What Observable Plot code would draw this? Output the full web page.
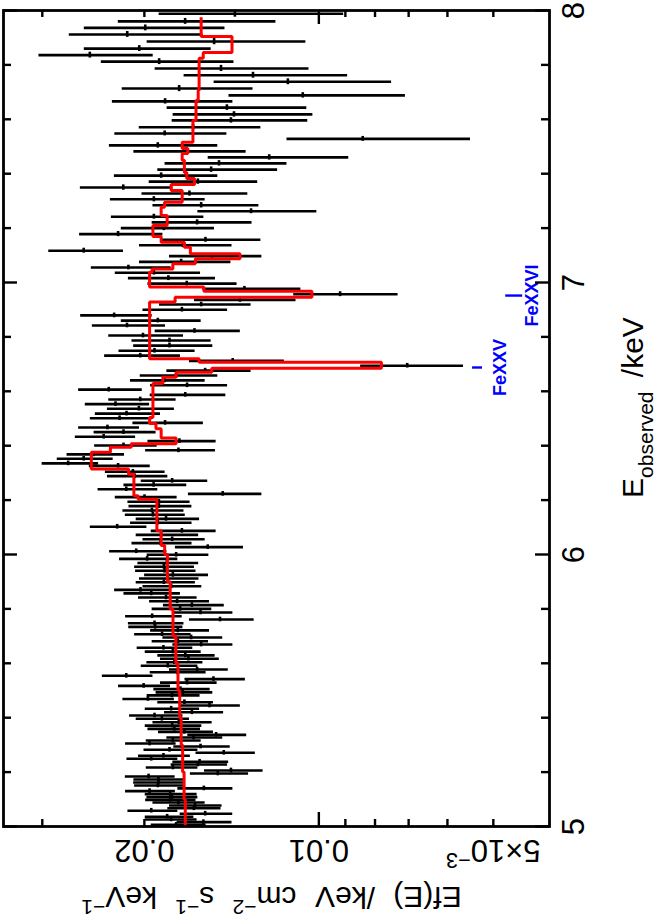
<!DOCTYPE html>
<html><head><meta charset="utf-8">
<script src="https://cdn.jsdelivr.net/npm/d3@7"></script>
<script src="https://cdn.jsdelivr.net/npm/@observablehq/plot@0.6"></script>
<style>
html,body{margin:0;padding:0;background:#fff;}
#chart svg{display:block;}
</style>
</head><body><div id="chart"></div>
<script>
// ---- Data (flux values in units of 1e-3 keV cm^-2 s^-1 keV^-1) ----
const FLUX_UNIT = 1e-3;
const energy = [
7.988,7.960,7.936,7.912,7.886,7.860,7.836,7.812,7.787,7.762,
7.738,7.713,7.688,7.666,7.643,7.618,7.596,7.571,7.548,7.528,
7.504,7.482,7.460,7.438,7.415,7.393,7.371,7.349,7.327,7.306,
7.284,7.262,7.242,7.221,7.200,7.178,7.157,7.137,7.117,7.097,
7.076,7.055,7.036,7.016,6.996,6.977,6.957,6.936,6.919,6.900,
6.879,6.860,6.842,6.822,6.805,6.787,6.768,6.749,6.731,6.712,
6.694,6.676,6.658,6.640,6.622,6.606,6.587,6.570,6.553,6.536,
6.518,6.501,6.484,6.467,6.450,6.433,6.417,6.401,6.383,6.368,
6.352,6.335,6.326,6.304,6.288,6.271,6.256,6.240,6.223,6.211,
6.194,6.178,6.162,6.146,6.131,6.117,6.102,6.087,6.072,6.056,
6.042,6.027,6.012,5.999,5.984,5.969,5.955,5.940,5.925,5.912,
5.898,5.883,5.870,5.857,5.842,5.828,5.814,5.800,5.787,5.773,
5.761,5.747,5.734,5.721,5.707,5.695,5.681,5.669,5.657,5.643,
5.629,5.617,5.604,5.591,5.577,5.567,5.554,5.542,5.529,5.517,
5.505,5.493,5.482,5.469,5.457,5.445,5.433,5.420,5.408,5.396,
5.383,5.371,5.359,5.348,5.337,5.327,5.316,5.305,5.294,5.282,
5.271,5.260,5.249,5.238,5.228,5.217,5.206,5.195,5.184,5.173,
5.162,5.151,5.140,5.130,5.119,5.108,5.098,5.088,5.077,5.067,
5.058,5.047,5.036,5.026,5.016,5.006];

const flux = [
13.96,17.01,19.93,21.41,15.16,20.41,24.84,18.86,14.75,12.99,
11.31,17.42,10.66,18.42,14.41,14.01,14.18,16.48,18.45,8.40,
18.96,17.06,12.18,14.87,15.34,18.71,16.17,21.75,16.72,19.26,
15.96,13.09,19.26,16.22,18.51,22.20,15.69,17.16,25.45,15.30,
17.28,21.31,19.26,18.18,16.90,13.44,9.19,13.68,15.96,17.23,
22.55,18.96,21.43,16.39,20.11,18.10,18.10,19.21,20.33,14.08,
7.04,15.71,17.63,18.46,16.88,23.04,17.00,20.33,22.43,20.44,
21.47,22.07,18.42,23.16,21.73,23.51,17.40,21.73,17.47,24.49,
25.45,27.07,22.20,20.93,20.79,17.91,19.28,21.49,14.65,19.99,
18.88,18.88,19.41,19.33,18.35,18.96,22.28,17.23,18.71,17.91,
18.76,15.55,20.66,17.63,19.78,18.29,18.51,18.46,17.86,18.22,
18.51,17.98,20.31,19.46,18.35,17.56,16.56,17.35,16.00,19.39,
14.81,19.21,19.16,17.51,18.64,16.61,17.51,15.96,18.54,17.86,
17.00,16.79,17.75,18.22,16.22,17.56,21.49,15.20,16.88,20.06,
17.33,17.16,17.93,19.72,17.06,15.44,17.98,16.56,19.21,18.66,
17.44,17.91,17.75,17.06,15.04,16.45,17.86,19.59,16.00,18.10,
14.59,18.54,19.46,16.06,16.17,17.86,14.18,14.94,19.67,18.91,
18.91,18.96,15.79,19.59,18.05,17.93,18.05,17.47,16.35,16.43,
19.46,15.71,18.27,17.98,15.82,17.63];

const fluxLo = [
9.06,11.86,14.52,15.84,10.53,15.34,19.31,14.01,10.40,8.92,
7.49,12.99,7.09,14.07,10.49,10.24,10.45,12.59,14.41,5.475,
14.94,13.35,8.88,11.35,11.78,14.94,12.75,17.86,13.26,15.71,
12.69,10.08,15.79,13.04,15.14,18.58,12.59,14.12,21.73,12.54,
14.18,17.98,16.00,15.08,13.84,10.74,7.30,10.95,13.09,14.37,
19.39,15.96,18.39,13.66,17.12,15.34,15.24,16.35,17.33,11.47,
5.63,13.09,14.94,15.71,14.37,20.17,14.47,17.63,19.59,17.75,
18.76,19.39,15.82,20.39,19.09,20.71,15.04,19.01,15.08,21.64,
22.64,23.99,19.54,18.42,18.22,15.55,16.90,18.96,12.54,17.56,
16.68,16.56,17.09,17.00,16.06,16.55,19.80,15.04,16.12,15.71,
16.55,13.49,18.29,15.48,17.51,16.12,16.39,16.29,15.50,16.10,
16.33,15.92,18.05,17.33,16.22,15.44,14.56,15.30,14.07,17.21,
12.93,17.09,17.16,15.44,16.61,14.65,15.50,14.07,16.50,15.96,
15.10,14.85,15.85,16.17,14.33,15.65,19.33,13.39,14.98,18.03,
15.40,15.24,16.03,17.75,15.20,13.66,16.06,14.60,17.16,16.72,
15.28,15.92,16.00,15.20,13.32,14.65,15.96,17.63,14.22,16.17,
12.87,16.66,17.51,14.31,14.37,16.17,12.48,13.22,17.70,17.02,
17.02,17.09,14.07,17.68,16.22,16.17,16.29,15.71,14.69,14.75,
17.51,14.08,16.43,16.22,14.12,15.65];

const fluxHi = [
18.86,22.18,25.39,26.95,19.78,25.39,30.40,23.73,19.16,17.08,
15.16,21.84,14.29,22.71,18.27,17.84,17.91,20.41,22.49,11.35,
22.98,20.85,15.52,18.42,18.96,22.53,19.62,25.79,20.19,22.89,
19.33,16.17,22.80,19.39,21.92,25.87,18.71,20.39,29.24,18.10,
20.39,24.69,22.45,21.31,19.72,15.85,11.05,16.39,18.83,20.11,
25.76,21.92,24.59,19.16,23.04,21.01,20.87,22.12,23.42,16.72,
8.47,18.29,20.33,21.13,19.51,25.97,19.54,23.04,25.29,23.16,
24.30,24.79,20.93,25.97,24.42,26.31,19.72,24.37,19.90,27.19,
28.27,30.02,24.89,23.35,23.16,20.25,21.69,24.04,16.79,22.45,
21.35,21.26,21.78,21.57,20.66,21.13,24.79,19.46,20.66,20.11,
21.01,17.68,22.96,19.78,22.07,20.52,20.79,20.71,19.98,20.39,
20.66,20.11,22.51,21.69,20.47,19.59,18.54,19.39,17.86,21.55,
16.72,21.31,21.28,19.51,20.79,18.58,19.39,17.86,20.58,19.93,
18.96,18.76,19.80,20.25,18.10,19.54,23.63,17.02,18.76,22.16,
19.26,19.09,19.78,21.78,18.96,17.28,19.93,18.46,21.21,20.66,
19.33,19.93,19.72,18.91,16.83,18.29,19.85,21.55,17.79,20.03,
16.29,20.47,21.43,17.86,17.98,19.85,15.75,16.66,21.57,20.85,
20.87,20.79,17.51,21.55,19.93,19.80,19.90,19.33,18.10,18.22,
21.35,17.35,19.93,19.93,17.56,19.46];

// Model (step function): bin edges in keV and flux per bin (1e-3 units)
const modelEdges = [5.0,5.1,5.2,5.3,5.4,5.5,5.6,5.7,5.8,5.9,6.0,
6.033,6.087,6.203,6.216,6.295,6.314,6.376,6.394,6.407,6.428,
6.462,6.482,6.504,6.629,6.652,6.670,6.685,6.707,6.720,6.928,
6.946,6.968,6.983,7.038,7.050,7.069,7.087,7.106,7.130,7.148,
7.169,7.210,7.246,7.277,7.295,7.338,7.360,7.382,7.404,7.449,
7.474,7.493,7.516,7.596,7.669,7.706,7.824,7.846,7.904,7.975];
const modelFlux = [17.00,17.08,17.18,17.28,17.38,17.50,17.65,17.85,18.05,18.25,18.45,
18.71,19.03,20.5,20.85,21.3,24.69,22.89,21.07,17.63,18.71,
19.1,19.59,19.33,18.58,17.63,15.30,7.80,16.09,19.59,17.7,
10.28,15.79,19.59,19.39,17.86,16.33,13.68,16.66,17.06,18.71,
19.33,18.27,18.71,18.46,17.21,17.98,16.39,16.90,17.06,17.21,
16.83,17.21,16.49,16.29,16.15,16.09,15.83,14.12,15.96];

// Line identifications
const ionNames = ["FeXXV", "FeXXVI"];
const ionEnergy = [6.6875, 6.952];
const ionMarkHi = [5.43, 4.76];   // flux at marker ends (1e-3 units)
const ionMarkLo = [5.22, 4.45];

// Axis ticks
const eMajor = [5, 6, 7, 8];
const eMinor = [5.2,5.4,5.6,5.8,6.2,6.4,6.6,6.8,7.2,7.4,7.6,7.8];
const fMajor = [0.01];
const fMinor = [0.03,0.02,0.009,0.008,0.007,0.006,0.005];
const fLabels = [0.02, 0.01, 0.005];
const fLabelText = ["0.02", "0.01", "5×10-3"];

// ---- Build tables ----
const points = energy.map((e, i) => ({E: e, f: flux[i]*FLUX_UNIT, lo: fluxLo[i]*FLUX_UNIT, hi: fluxHi[i]*FLUX_UNIT}));
points.forEach((p, i) => {
  const a = i > 0 ? Math.abs(energy[i-1] - p.E) : Infinity;
  const b = i < energy.length - 1 ? Math.abs(energy[i+1] - p.E) : Infinity;
  p.dE = Math.max(0.45 * Math.min(a, b), 0.0085);
});
const modelPts = [];
modelFlux.forEach((f, i) => {
  modelPts.push({E: modelEdges[i], f: f*FLUX_UNIT});
  modelPts.push({E: modelEdges[i+1], f: f*FLUX_UNIT});
});
const ions = ionNames.map((n, i) => ({name: n, E: ionEnergy[i], x1: ionMarkHi[i]*FLUX_UNIT, x2: ionMarkLo[i]*FLUX_UNIT}));
const fLab = fLabels.map((v, i) => ({v, t: fLabelText[i]}));

const W = 657, H = 922, mL = 3, mR = 108, mT = 10, mB = 96;
const fw = W - mL - mR, fh = H - mT - mB;
const FONT = "'Liberation Sans', Arial, Helvetica, sans-serif";
const TICKFS = 31, TITLEFS = 30;
const C = {textAnchor: "middle", lineAnchor: "middle", fill: "black"};

const chart = Plot.plot({
  width: W, height: H,
  marginLeft: mL, marginRight: mR, marginTop: mT, marginBottom: mB,
  style: {fontFamily: FONT, background: "white", overflow: "visible"},
  x: {type: "log", domain: [0.035, 0.004], axis: null},
  y: {domain: [5, 8], axis: null},
  marks: [
    Plot.ruleY(points, {y: "E", x1: "lo", x2: "hi", stroke: "black", strokeWidth: 2.6}),
    Plot.ruleX(points, {x: "f", y1: d => d.E - d.dE, y2: d => d.E + d.dE, stroke: "black", strokeWidth: 2.6}),
    Plot.line(modelPts, {x: "f", y: "E", stroke: "#ff0000", strokeWidth: 3, strokeLinejoin: "miter", strokeLinecap: "butt"}),
    Plot.ruleY(ions, {y: "E", x1: "x1", x2: "x2", stroke: "#0000ff", strokeWidth: 2.4}),
    Plot.text(ions.filter(d => d.name === "FeXXV"), {x: "x2", y: "E", text: "name", rotate: -90, dx: 18, textAnchor: "middle", lineAnchor: "middle", fill: "#0000ff", fontSize: 18, fontWeight: "bold"}),
    Plot.text(ions.filter(d => d.name === "FeXXVI"), {x: "x2", y: "E", text: "name", rotate: -90, dx: 10, textAnchor: "middle", lineAnchor: "middle", fill: "#0000ff", fontSize: 18, fontWeight: "bold"}),
    // ticks
    Plot.tickY(eMajor, {y: d => d, insetRight: fw - 14, strokeWidth: 2.4}),
    Plot.tickY(eMajor, {y: d => d, insetLeft: fw - 14, strokeWidth: 2.4}),
    Plot.tickY(eMinor, {y: d => d, insetRight: fw - 8, strokeWidth: 2.4}),
    Plot.tickY(eMinor, {y: d => d, insetLeft: fw - 8, strokeWidth: 2.4}),
    Plot.tickX(fMajor, {x: d => d, insetTop: fh - 14, strokeWidth: 2.4}),
    Plot.tickX(fMajor, {x: d => d, insetBottom: fh - 14, strokeWidth: 2.4}),
    Plot.tickX(fMinor, {x: d => d, insetTop: fh - 7, strokeWidth: 2.4}),
    Plot.tickX(fMinor, {x: d => d, insetBottom: fh - 7, strokeWidth: 2.4}),
    // tick labels
    Plot.text(fLab, {...C, x: "v", text: "t", frameAnchor: "bottom", dy: 23, rotate: 180, fontSize: TICKFS}),
    Plot.text(eMajor, {...C, y: d => d, text: d => String(d), frameAnchor: "right", dx: 25, rotate: -90, fontSize: TICKFS}),
    // axis titles
    Plot.text(["Eobserved /keV"], {...C, text: d => d, frameAnchor: "right", dx: 84, dy: -11, rotate: -90, fontSize: TITLEFS}),
    Plot.text(["Ef(E) /keV cm-2 s-1 keV-1"], {...C, text: d => d, frameAnchor: "bottom", dy: 70, dx: -5, rotate: 180, fontSize: TITLEFS}),
    Plot.frame({stroke: "black", strokeWidth: 2.8})
  ]
});

// rich text (super/subscripts) as real tspans
const SVGNS = "http://www.w3.org/2000/svg";
function rich(node, parts, fs) {
  node.textContent = "";
  let shift = 0;
  for (const [s, kind, gap] of parts) {
    const t = document.createElementNS(SVGNS, "tspan");
    const target = kind === "sup" ? -0.42 * fs : kind === "sub" ? 0.32 * fs : 0;
    t.setAttribute("dy", String(target - shift));
    if (gap) t.setAttribute("dx", String(gap));
    shift = target;
    if (kind !== "n") t.setAttribute("font-size", String(0.7 * fs));
    t.textContent = s;
    node.appendChild(t);
  }
}
d3.select(chart).selectAll("text").each(function() {
  const s = this.textContent;
  if (s === "5×10-3") rich(this, [["5×10", "n"], ["−3", "sup"]], TICKFS);
  else if (s === "Eobserved /keV") rich(this, [["E", "n"], ["observed", "sub"], [" /keV", "n", 6]], TITLEFS);
  else if (s === "Ef(E) /keV cm-2 s-1 keV-1") rich(this, [["Ef(E)", "n"], [" /keV", "n", 10], [" cm", "n", 10], ["−2", "sup"], [" s", "n", 10], ["−1", "sup"], [" keV", "n", 10], ["−1", "sup"]], TITLEFS);
});

document.getElementById("chart").appendChild(chart);
</script>
</body></html>
